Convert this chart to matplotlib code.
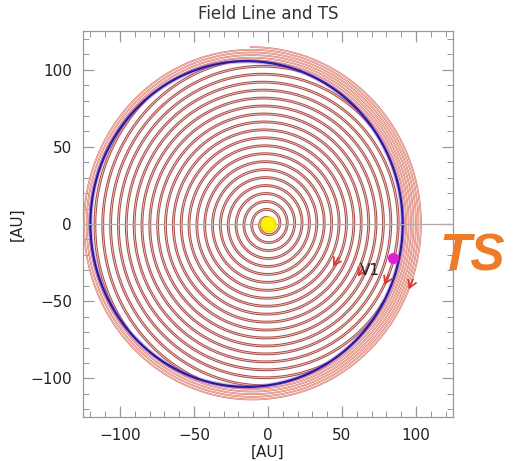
import numpy as np
import matplotlib
matplotlib.use('Agg')
import matplotlib.pyplot as plt
from matplotlib.patches import FancyArrowPatch

# Field line: spiral about the Sun, compressed beyond the shock.
spiral_r0 = 3.0          # [AU] radius where the spiral starts (phi = 0)
pitch_mean = 5.15        # [AU] mean radial spacing of successive turns
pitch_skew = 0.15        # [AU] turns are wider on the tail side (phi = 180)
spiral_turns = 25.267    # number of turns drawn (ends near the top)
sheath_compression = 3.0 # compression of the winding past the shock

# Termination shock: circle offset from the Sun.
ts_center = (-14.5, 0.0)
ts_radius = 105.5

# Voyager 1 position and field direction markers.
v1_pos = (84.5, -22.0)
v1_label_pos = (69.0, -30.0)
arrow_x = [43.9, 60.8, 78.5, 95.1]
arrow_y = [-27.6, -34.1, -39.5, -42.3]

ticks = [-100, -50, 0, 50, 100]


def ts_distance(phi):
    """Distance from the Sun to the shock along direction phi."""
    uc = ts_center[0]*np.cos(phi) + ts_center[1]*np.sin(phi)
    cc = ts_center[0]**2 + ts_center[1]**2
    return uc + np.sqrt(uc**2 - cc + ts_radius**2)


theta = np.linspace(0, 2*np.pi*spiral_turns, 30000)
pitch = pitch_mean - pitch_skew*np.cos(theta)
r_free = spiral_r0 + pitch*theta/(2*np.pi)
r_shock = ts_distance(theta)
outside = r_free > r_shock
r_plot = np.where(outside, r_shock + (r_free - r_shock)/sheath_compression, r_free)
xs = r_plot*np.cos(theta)
ys = r_plot*np.sin(theta)

fig = plt.figure(figsize=(5.13, 4.61), dpi=100)
ax = fig.add_axes([0.1618, 0.0954, 0.7212, 0.8373])

# Inner (supersonic) and sheath parts of the field line.
x_in = np.where(outside, np.nan, xs)
y_in = np.where(outside, np.nan, ys)
x_out = np.where(outside, xs, np.nan)
y_out = np.where(outside, ys, np.nan)
# keep the sheath part joined to the inner part
edge = np.where(np.diff(outside.astype(int)) != 0)[0]
for i in edge:
    x_out[i:i+2] = xs[i:i+2]
    y_out[i:i+2] = ys[i:i+2]

ax.plot(x_in, y_in, color='#a9504b', lw=2.0, zorder=2, solid_capstyle='butt')
ax.plot(x_in, y_in, color='#f6dcd6', lw=0.5, zorder=3)
ax.plot(x_out, y_out, color='#dc7666', lw=1.25, zorder=2, solid_capstyle='butt')
ax.plot(x_out, y_out, color='#fbe4de', lw=0.35, zorder=3)

# Termination shock
t = np.linspace(0, 2*np.pi, 720)
ax.plot(ts_center[0] + ts_radius*np.cos(t), ts_center[1] + ts_radius*np.sin(t),
        color='#9a5ad0', lw=3.2, alpha=0.45, zorder=4)
ax.plot(ts_center[0] + ts_radius*np.cos(t), ts_center[1] + ts_radius*np.sin(t),
        color='#2a1a9e', lw=1.6, zorder=5)

# y = 0 reference line
ax.axhline(0, color='#b8a8a8', lw=0.9, zorder=6)

# Field direction arrows, pointing along the clockwise tangent
for px, py in zip(arrow_x, arrow_y):
    r = np.hypot(px, py)
    dx, dy = py/r, -px/r
    arr = FancyArrowPatch((px - 7*dx, py - 7*dy), (px, py),
                          arrowstyle='->,head_length=0.5,head_width=0.3',
                          mutation_scale=10, color='#d63c30', lw=1.3,
                          shrinkA=0, shrinkB=0, zorder=7)
    ax.add_patch(arr)

# Sun and Voyager 1
ax.plot(0, 0, 'o', ms=11, color='#fff200', mec='#f2d400', mew=0.8, zorder=8)
ax.plot(*v1_pos, 'o', ms=7, color='#e020d0', mec='#e020d0', zorder=8)
ax.text(*v1_label_pos, 'V1', fontsize=11, color='#222222', ha='center',
        va='center', zorder=9)

ax.set_xlim(-125, 125)
ax.set_ylim(-125, 125)
ax.set_xticks(ticks)
ax.set_yticks(ticks)
ax.set_xticks(np.arange(-120, 121, 10), minor=True)
ax.set_yticks(np.arange(-120, 121, 10), minor=True)
ax.tick_params(which='both', direction='in', top=True, right=True,
               color='#999999', labelsize=11, labelcolor='#222222', pad=8)
ax.tick_params(which='major', length=8, width=0.9)
ax.tick_params(which='minor', length=4, width=0.7)
for s in ax.spines.values():
    s.set_color('#999999')
    s.set_linewidth(0.9)

ax.set_title('Field Line and TS', fontsize=12, color='#333333', pad=9)
ax.set_xlabel('[AU]', fontsize=11, color='#222222', labelpad=1.5)
ax.set_ylabel('[AU]', fontsize=11, color='#222222', labelpad=4)

fig.text(472/513, 1 - 257/461, 'TS', fontsize=37, color='#ef7a2a',
         fontweight='bold', fontstyle='italic', family='Liberation Sans',
         ha='center', va='center')

fig.savefig('out.png', dpi=100)
